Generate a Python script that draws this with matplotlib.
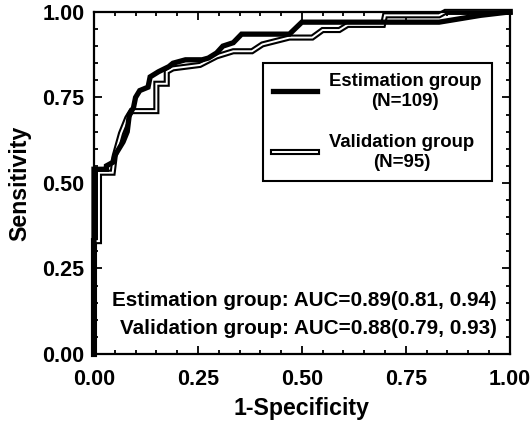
import numpy as np
import matplotlib
matplotlib.use('Agg')
import matplotlib.pyplot as plt
from matplotlib.lines import Line2D
from matplotlib.legend_handler import HandlerTuple
from matplotlib.ticker import MultipleLocator

plt.rcParams['font.family'] = ['Liberation Sans', 'DejaVu Sans']
plt.rcParams['font.weight'] = 'bold'

# ROC curve points
est_fpr = [0.0, 0.0, 0.03, 0.03, 0.045, 0.05, 0.06, 0.07, 0.08, 0.085, 0.095, 0.10,
           0.11, 0.13, 0.135, 0.155, 0.18, 0.19, 0.22, 0.26, 0.275, 0.295, 0.31,
           0.335, 0.355, 0.47, 0.50, 0.83, 0.93, 1.0]
est_tpr = [0.0, 0.54, 0.54, 0.55, 0.56, 0.58, 0.60, 0.62, 0.65, 0.70, 0.72, 0.75,
           0.77, 0.78, 0.81, 0.825, 0.84, 0.85, 0.86, 0.86, 0.865, 0.88, 0.90,
           0.91, 0.935, 0.935, 0.97, 0.97, 0.99, 1.0]

val_fpr = [0.0, 0.0, 0.012, 0.012, 0.045, 0.05, 0.065, 0.07, 0.08, 0.09, 0.15, 0.15,
           0.175, 0.175, 0.19, 0.255, 0.295, 0.335, 0.38, 0.405, 0.47, 0.525, 0.55,
           0.59, 0.61, 0.695, 0.70, 0.83, 0.845, 1.0]
val_tpr = [0.0, 0.33, 0.33, 0.53, 0.53, 0.58, 0.645, 0.66, 0.69, 0.71, 0.71, 0.79,
           0.79, 0.825, 0.835, 0.845, 0.87, 0.885, 0.885, 0.905, 0.925, 0.925, 0.947,
           0.947, 0.962, 0.962, 0.99, 0.99, 1.0, 1.0]

labels = ['Estimation group\n(N=109)', 'Validation group\n(N=95)']
auc_text = ['Estimation group: AUC=0.89(0.81, 0.94)',
            'Validation group: AUC=0.88(0.79, 0.93)']

fig = plt.figure(figsize=(5.31, 4.25), dpi=100)
ax = fig.add_axes([0.177, 0.167, 0.783, 0.805])

ax.plot(est_fpr, est_tpr, color='black', lw=3.8, solid_joinstyle='miter', clip_on=False, zorder=3)
ax.plot(val_fpr, val_tpr, color='black', lw=4.4, solid_joinstyle='miter', clip_on=False, zorder=2)
ax.plot(val_fpr, val_tpr, color='white', lw=1.4, solid_joinstyle='miter', clip_on=False, zorder=2.5)

ax.set_xlim(0, 1)
ax.set_ylim(0, 1)
ax.xaxis.set_major_locator(MultipleLocator(0.25))
ax.yaxis.set_major_locator(MultipleLocator(0.25))
ax.xaxis.set_minor_locator(MultipleLocator(0.05))
ax.yaxis.set_minor_locator(MultipleLocator(0.05))
ax.xaxis.set_major_formatter(plt.FormatStrFormatter('%.2f'))
ax.yaxis.set_major_formatter(plt.FormatStrFormatter('%.2f'))
ax.tick_params(which='both', direction='in', top=True, right=True, width=1.3, labelsize=15.5)
ax.tick_params(which='major', length=5.5)
ax.tick_params(which='minor', length=3)
ax.tick_params(axis='x', which='major', pad=11)
ax.tick_params(axis='y', which='major', pad=7)
for s in ax.spines.values():
    s.set_linewidth(1.6)

ax.set_xlabel('1-Specificity', fontsize=16.7, fontweight='bold', labelpad=5)
ax.set_ylabel('Sensitivity', fontsize=16.7, fontweight='bold', labelpad=8)

ax.text(0.968, 0.155, auc_text[0], transform=ax.transAxes, ha='right', va='center', fontsize=14.85, fontweight='bold')
ax.text(0.968, 0.075, auc_text[1], transform=ax.transAxes, ha='right', va='center', fontsize=14.85, fontweight='bold')

h_est = Line2D([], [], color='black', lw=3.8)
h_val = (Line2D([], [], color='black', lw=4.4), Line2D([], [], color='white', lw=1.4))
leg = ax.legend([h_est, h_val], labels, handler_map={tuple: HandlerTuple(ndivide=1)},
                loc='upper right', bbox_to_anchor=(0.957, 0.851), borderaxespad=0,
                fontsize=13.4, frameon=True, fancybox=False, edgecolor='black', framealpha=1,
                handlelength=2.35, handletextpad=0.65, labelspacing=1.3, borderpad=0.55)
leg.get_frame().set_linewidth(1.5)
for t in leg.get_texts():
    t.set_multialignment('center')
    t.set_fontweight('bold')

fig.savefig('out.png', dpi=100)
